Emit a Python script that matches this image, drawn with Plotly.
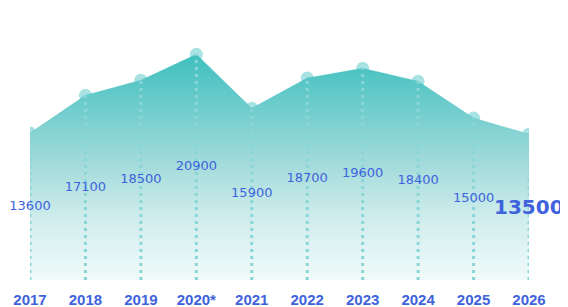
import plotly.graph_objects as go

years = ["2017", "2018", "2019", "2020*", "2021", "2022", "2023", "2024", "2025", "2026"]
values = [13600, 17100, 18500, 20900, 15900, 18700, 19600, 18400, 15000, 13500]
label_texts = [str(v) for v in values]

xs = list(range(len(years)))
label_y = [v / 2 for v in values]

fig = go.Figure()

# markers (behind the fill)
fig.add_trace(go.Scatter(
    x=xs, y=values, mode="markers",
    marker=dict(size=13, color="rgba(64,191,191,0.45)", line=dict(width=0)),
    hoverinfo="skip", showlegend=False,
))

# area
fig.add_trace(go.Scatter(
    x=xs, y=values, mode="lines",
    line=dict(color="rgba(64,191,191,0.6)", width=0.5),
    fill="tozeroy",
    fillgradient=dict(type="vertical",
                      colorscale=[[0, "#f0fafa"], [0.25, "#d4eeee"], [0.5, "#a6dcdc"], [1, "#3fbfbf"]]),
    showlegend=False,
))

# dotted drop lines
dx, dy = [], []
for x, v in zip(xs, values):
    dx += [x, x, None]
    dy += [0, v, None]
fig.add_trace(go.Scatter(
    x=dx, y=dy, mode="lines",
    line=dict(color="#8ad6d6", width=3, dash="3px,4px"),
    hoverinfo="skip", showlegend=False,
))

# value labels (all but last)
fig.add_trace(go.Scatter(
    x=xs[:-1], y=label_y[:-1], mode="text",
    text=label_texts[:-1], textposition="middle center",
    textfont=dict(family="DejaVu Sans", size=13, color="#3e63dd"),
    cliponaxis=False, showlegend=False, hoverinfo="skip",
))

fig.add_annotation(
    x=xs[-1], y=label_y[-1], text="<b>" + label_texts[-1] + "</b>",
    showarrow=False,
    font=dict(family="DejaVu Sans", size=20, color="#3e63dd"),
)

fig.update_layout(
    width=560, height=299,
    margin=dict(l=22, r=39, t=2, b=27, autoexpand=False),
    paper_bgcolor="white", plot_bgcolor="white",
    xaxis=dict(range=[0, 9], tickvals=xs, ticktext=["<b>%s</b>" % y for y in years],
               showgrid=False, zeroline=False, showline=False, automargin=False,
               ticks="", ticklabelstandoff=9,
               tickfont=dict(family="Liberation Sans", size=15, color="#3e63dd")),
    yaxis=dict(range=[0, 25000], visible=False),
)

fig.write_html("out.html")
